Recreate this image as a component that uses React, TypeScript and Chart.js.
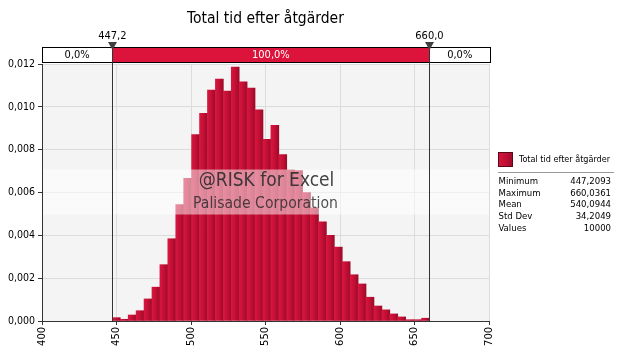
import React, { useEffect, useRef } from 'react';
import { Chart, registerables } from 'chart.js';

Chart.register(...registerables);

const chartTitle = 'Total tid efter åtgärder';
const seriesName = 'Total tid efter åtgärder';

// Histogram bins (centres) and densities
const binCenters = [
  449.87, 455.19, 460.51, 465.83, 471.15, 476.47, 481.79, 487.11, 492.44, 497.76,
  503.08, 508.40, 513.72, 519.04, 524.36, 529.68, 535.00, 540.32, 545.64, 550.96,
  556.28, 561.60, 566.92, 572.25, 577.57, 582.89, 588.21, 593.53, 598.85, 604.17,
  609.49, 614.81, 620.13, 625.45, 630.77, 636.09, 641.41, 646.73, 652.06, 657.38,
];
const densities = [
  0.000155, 0.00008, 0.00028, 0.00048, 0.00103, 0.00158, 0.00263, 0.00384, 0.00544, 0.00666,
  0.0087, 0.0097, 0.01078, 0.0113, 0.01073, 0.01186, 0.01117, 0.01088, 0.00986, 0.00848,
  0.00914, 0.00777, 0.00705, 0.00702, 0.006, 0.00528, 0.00463, 0.004, 0.00345, 0.00277,
  0.00216, 0.00173, 0.00111, 0.0007, 0.00052, 0.00033, 0.00019, 0.00006, 0.00006, 0.00013,
];
const binWidth = 5.3207;

const xMin = 400;
const xMax = 700;
const xStep = 50;
const yMin = 0;
const yMax = 0.012;
const yStep = 0.002;

const leftMarker = 447.2093;
const rightMarker = 660.0361;
const leftMarkerLabel = '447,2';
const rightMarkerLabel = '660,0';
const segmentLabels = ['0,0%', '100,0%', '0,0%'];

const statNames = ['Minimum', 'Maximum', 'Mean', 'Std Dev', 'Values'];
const statValues = ['447,2093', '660,0361', '540,0944', '34,2049', '10000'];

const watermarkLines = ['@RISK for Excel', 'Palisade Corporation'];

const FONT = '"DejaVu Sans Condensed", "DejaVu Sans", sans-serif';
const RED = '#dc143c';
const FLAT = '#c20f35';

function barGradient(ctx: CanvasRenderingContext2D, x0: number, x1: number) {
  if (!isFinite(x0) || !isFinite(x1) || x1 <= x0) return FLAT;
  const g = ctx.createLinearGradient(x0, 0, x1, 0);
  g.addColorStop(0, '#d8163f');
  g.addColorStop(0.5, '#c20f35');
  g.addColorStop(1, '#9c0a29');
  return g;
}

const decorPlugin = {
  id: 'decor',
  beforeDraw(chart: any) {
    const { ctx, chartArea: a } = chart;
    ctx.save();
    ctx.fillStyle = '#f4f4f4';
    ctx.fillRect(a.left, a.top, a.right - a.left, a.bottom - a.top);
    ctx.restore();
  },
  afterDatasetsDraw(chart: any) {
    const { ctx, chartArea: a } = chart;
    const xs = chart.scales.x;
    const cx = (a.left + a.right) / 2;
    const cy = (a.top + a.bottom) / 2;
    ctx.save();
    // watermark band
    ctx.fillStyle = 'rgba(255,255,255,0.5)';
    ctx.fillRect(a.left + 1, cy - 23, a.right - a.left - 1, 45);
    ctx.textAlign = 'center';
    ctx.textBaseline = 'middle';
    ctx.fillStyle = 'rgba(40,40,40,0.88)';
    ctx.font = `19px ${FONT}`;
    ctx.fillText(watermarkLines[0], cx + 1, cy - 11);
    ctx.fillStyle = 'rgba(40,40,40,0.82)';
    ctx.font = `15.6px ${FONT}`;
    ctx.fillText(watermarkLines[1], cx, cy + 11);

    // top box
    const bTop = a.top - 17;
    const bBot = a.top - 2;
    const lx = xs.getPixelForValue(leftMarker);
    const rx = xs.getPixelForValue(rightMarker);
    const boxL = a.left;
    const boxR = a.right + 1;
    ctx.fillStyle = '#ffffff';
    ctx.fillRect(boxL, bTop, boxR - boxL, bBot - bTop);
    ctx.fillStyle = RED;
    ctx.fillRect(lx, bTop, rx - lx, bBot - bTop);
    ctx.strokeStyle = '#000';
    ctx.lineWidth = 1;
    ctx.strokeRect(Math.round(boxL) + 0.5, Math.round(bTop) + 0.5, Math.round(boxR - boxL), Math.round(bBot - bTop));

    // vertical marker lines
    ctx.strokeStyle = '#333';
    ctx.beginPath();
    ctx.moveTo(Math.round(lx) + 0.5, bTop);
    ctx.lineTo(Math.round(lx) + 0.5, a.bottom);
    ctx.moveTo(Math.round(rx) + 0.5, bTop);
    ctx.lineTo(Math.round(rx) + 0.5, a.bottom);
    ctx.stroke();

    // segment labels
    ctx.font = `11px ${FONT}`;
    ctx.textBaseline = 'middle';
    const my = (bTop + bBot) / 2 + 0.5;
    ctx.fillStyle = '#000';
    ctx.fillText(segmentLabels[0], (boxL + lx) / 2, my);
    ctx.fillStyle = '#fff';
    ctx.fillText(segmentLabels[1], (lx + rx) / 2, my);
    ctx.fillStyle = '#000';
    ctx.fillText(segmentLabels[2], (rx + boxR) / 2, my);

    // triangles
    ctx.fillStyle = '#404040';
    [lx, rx].forEach((x) => {
      const px = Math.round(x) + 0.5;
      ctx.beginPath();
      ctx.moveTo(px - 4.5, bTop - 5);
      ctx.lineTo(px + 4.5, bTop - 5);
      ctx.lineTo(px, bTop + 3);
      ctx.closePath();
      ctx.fill();
    });
    ctx.fillStyle = '#000';
    ctx.font = `11px ${FONT}`;
    ctx.fillText(leftMarkerLabel, lx, bTop - 11);
    ctx.fillText(rightMarkerLabel, rx, bTop - 11);
    ctx.restore();
  },
  afterDraw(chart: any) {
    const { ctx, chartArea: a } = chart;
    ctx.save();
    // title
    ctx.fillStyle = '#000';
    ctx.textAlign = 'center';
    ctx.textBaseline = 'middle';
    ctx.font = `15.5px ${FONT}`;
    ctx.fillText(chartTitle, (a.left + a.right) / 2, 18.5);

    // legend
    const lx = a.right + 9;
    const sq = 15;
    const sy = 152;
    ctx.fillStyle = barGradient(ctx, lx, lx + sq);
    ctx.fillRect(lx, sy, sq, sq);
    ctx.strokeStyle = '#5a0818';
    ctx.strokeRect(lx + 0.5, sy + 0.5, sq - 1, sq - 1);
    ctx.fillStyle = '#000';
    ctx.textAlign = 'left';
    ctx.font = `9px ${FONT}`;
    ctx.fillText(seriesName, lx + 21, sy + 7.5);
    ctx.strokeStyle = '#999';
    ctx.beginPath();
    ctx.moveTo(lx, 172.5);
    ctx.lineTo(614, 172.5);
    ctx.stroke();
    ctx.font = `9.5px ${FONT}`;
    statNames.forEach((n, i) => {
      const y = 181.7 + i * 11.65;
      ctx.textAlign = 'left';
      ctx.fillText(n, lx + 0.5, y);
      ctx.textAlign = 'right';
      ctx.fillText(statValues[i], 611, y);
    });
    ctx.restore();
  },
};

export default function App() {
  const ref = useRef<HTMLCanvasElement | null>(null);
  useEffect(() => {
    document.body.style.margin = '0';
    const canvas = ref.current;
    if (!canvas) return;
    const chart = new Chart(canvas, {
      type: 'bar',
      data: {
        datasets: [
          {
            label: seriesName,
            data: binCenters.map((x, i) => ({ x, y: densities[i] })),
            barPercentage: 1,
            categoryPercentage: 1,
            grouped: false,
            borderWidth: 0,
            backgroundColor: (c: any) => {
              const ch = c.chart;
              const xs = ch.scales && ch.scales.x;
              if (!xs || c.type !== 'data' || !ch.chartArea) return FLAT;
              const cc = binCenters[c.dataIndex];
              const x0 = xs.getPixelForValue(cc - binWidth / 2);
              const x1 = xs.getPixelForValue(cc + binWidth / 2);
              return barGradient(ch.ctx, x0, x1);
            },
          },
        ],
      },
      options: {
        responsive: false,
        animation: false,
        devicePixelRatio: 1,
        layout: { padding: { top: 64, right: 128, left: 0, bottom: 0 } },
        plugins: { legend: { display: false }, tooltip: { enabled: false }, title: { display: false } },
        scales: {
          x: {
            type: 'linear',
            min: xMin,
            max: xMax,
            offset: false,
            ticks: {
              stepSize: xStep,
              minRotation: 90,
              maxRotation: 90,
              padding: 2,
              color: '#000',
              font: { family: FONT, size: 11 },
              callback: (v: any) => String(v),
            },
            grid: { color: '#dcdcdc', tickColor: '#333', tickLength: 4, offset: false },
            border: { color: '#333' },
            afterFit: (s: any) => {
              s.height = 35;
            },
          },
          y: {
            min: yMin,
            max: yMax,
            ticks: {
              stepSize: yStep,
              padding: 3,
              color: '#000',
              font: { family: FONT, size: 10.5 },
              callback: (v: any) => Number(v).toFixed(3).replace('.', ','),
            },
            grid: { color: '#dcdcdc', tickColor: '#333', tickLength: 4 },
            border: { color: '#333' },
            afterFit: (s: any) => {
              s.width = 42;
            },
          },
        },
      },
      plugins: [decorPlugin],
    });
    return () => chart.destroy();
  }, []);
  return (
    <div style={{ position: 'absolute', left: 0, top: 0, width: 617, height: 356, background: '#fff' }}>
      <canvas ref={ref} width={617} height={356} />
    </div>
  );
}
